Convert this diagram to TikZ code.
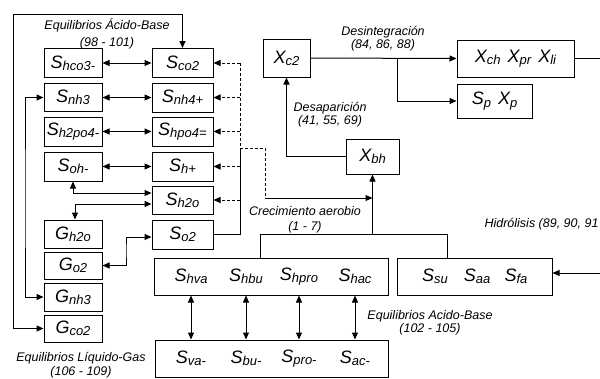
\documentclass[tikz,border=0pt]{standalone}
\usepackage{fontspec}
\setmainfont{Liberation Sans}
\usetikzlibrary{arrows.meta}
\newcommand{\vv}[2]{{\fontsize{18}{18}\selectfont\itshape #1}\raisebox{-2.2pt}{\fontsize{13}{13}\selectfont\itshape #2}}
\tikzset{
  box/.style={draw, inner sep=0pt},
  txt/.style={inner sep=0pt},
  lab/.style={font=\fontsize{12.5}{13.5}\selectfont\itshape, align=center, inner sep=0pt},
  arr/.style={-{Triangle[length=7pt,width=6pt]}},
  both/.style={{Triangle[length=7pt,width=6pt]}-{Triangle[length=7pt,width=6pt]}},
  dsh/.style={dash pattern=on 3pt off 2pt}
}
\begin{document}
\begin{tikzpicture}[x=1pt,y=-1pt,line width=1pt]
\useasboundingbox (0,0) rectangle (600,378);
\clip (0,0) rectangle (600,378);
% left column
\node[box,minimum width=58pt,minimum height=29pt] (shco3) at (73,63) {\vv{S}{hco3-}};
\node[box,minimum width=58pt,minimum height=28pt] (snh3) at (73,97.5) {\vv{S}{nh3}};
\node[box,minimum width=58pt,minimum height=29pt] (sh2po4) at (73,131.5) {\vv{S}{h2po4-}};
\node[box,minimum width=58pt,minimum height=29pt] (soh) at (73,166.5) {\vv{S}{oh-}};
\node[box,minimum width=58pt,minimum height=28pt] (gh2o) at (73,234) {\vv{G}{h2o}};
\node[box,minimum width=58pt,minimum height=27pt] (go2) at (73,265.5) {\vv{G}{o2}};
\node[box,minimum width=58pt,minimum height=28pt] (gnh3) at (73,297) {\vv{G}{nh3}};
\node[box,minimum width=58pt,minimum height=27pt] (gco2) at (73,328.5) {\vv{G}{co2}};
% right column
\node[box,minimum width=61pt,minimum height=29pt] (sco2) at (182.5,63) {\vv{S}{co2}};
\node[box,minimum width=61pt,minimum height=29pt] (snh4) at (182.5,97.5) {\vv{S}{nh4+}};
\node[box,minimum width=61pt,minimum height=29pt] (shpo4) at (182.5,131.5) {\vv{S}{hpo4=}};
\node[box,minimum width=61pt,minimum height=29pt] (shp) at (182.5,166.5) {\vv{S}{h+}};
\node[box,minimum width=61pt,minimum height=28pt] (sh2o) at (182.5,200) {\vv{S}{h2o}};
\node[box,minimum width=61pt,minimum height=29pt] (so2) at (182.5,234.5) {\vv{S}{o2}};
% right part
\node[box,minimum width=47pt,minimum height=38pt] (xc2) at (286.5,58) {\vv{X}{c2}};
\node[box,minimum width=117pt,minimum height=37pt] (xch) at (515.5,58.5) {\vv{X}{ch}\hspace{7pt}\vv{X}{pr}\hspace{7pt}\vv{X}{li}};
\node[box,minimum width=75pt,minimum height=34pt] (sp) at (494.5,101) {\vv{S}{p}\hspace{7pt}\vv{X}{p}};
\node[box,minimum width=53pt,minimum height=35pt] (xbh) at (372.5,156.5) {\vv{X}{bh}};
\node[box,minimum width=234pt,minimum height=37pt] (shva) at (271,276.5) {};
\node[box,minimum width=155pt,minimum height=37pt] (ssu) at (474.5,276.5) {};
\node[box,minimum width=233pt,minimum height=37pt] (sva) at (271.5,358.5) {};
% texts in big boxes
\node[txt] (hva) at (191,276.5) {\vv{S}{hva}};
\node[txt] (hbu) at (246,276.5) {\vv{S}{hbu}};
\node[txt] (hpro) at (299,276.5) {\vv{S}{hpro}};
\node[txt] (hac) at (355,276.5) {\vv{S}{hac}};
\node[txt] (va) at (191,358.5) {\vv{S}{va-}};
\node[txt] (bu) at (246,358.5) {\vv{S}{bu-}};
\node[txt] (pro) at (299,358.5) {\vv{S}{pro-}};
\node[txt] (ac) at (355,358.5) {\vv{S}{ac-}};
\node[txt] (su) at (435,276.5) {\vv{S}{su}};
\node[txt] (aa) at (477,276.5) {\vv{S}{aa}};
\node[txt] (fa) at (516,276.5) {\vv{S}{fa}};
% labels
\node[lab] (l1) at (107,33.5) {Equilibrios Ácido-Base\\[3.5pt](98 - 101)};
\node[lab] (l2) at (383,38.5) {Desintegración\\(84, 86, 88)};
\node[lab] (l3) at (330,114.5) {Desaparición\\(41, 55, 69)};
\node[lab] (l4) at (305,219.5) {Crecimiento aerobio\\[1.5pt](1 - 7)};
\node[lab,anchor=east] (l5) at (599,224) {Hidrólisis (89, 90, 91};
\node[lab] (l6) at (430,323) {Equilibrios Acido-Base\\(102 - 105)};
\node[lab] (l7) at (81,365) {Equilibrios Líquido-Gas\\(106 - 109)};
% coordinates
\coordinate (tl) at (13,14);
\coordinate (ln) at (25,200);
\coordinate (og) at (126,250);
\coordinate (dmid) at (240,148);
\coordinate (dturn) at (265,148);
\coordinate (dbot) at (265,198);
\coordinate (ta) at (260,234);
\coordinate (tb) at (447,234);
\coordinate (br) at (397,58.5);
\coordinate (re) at (600,58.5);
\coordinate (ri) at (600,273);
% left connectors
\draw[both] (gco2.west) -| (tl) -| (sco2.north);
\draw[both] (snh3.west) -| (ln) |- (gnh3.west);
\draw[both] (shco3.east) -- (sco2.west);
\draw[both] (snh3.east) -- (snh4.west);
\draw[both] (sh2po4.east) -- (shpo4.west);
\draw[both] (soh.east) -- (shp.west);
\draw[both] (soh.south) |- ([yshift=7pt]sh2o.west);
\draw[both] ([yshift=-4pt]sh2o.west) -| ([xshift=2pt]gh2o.north);
\draw[both] (go2.east) -| (og) |- ([yshift=-2.5pt]so2.west);
% dashed
\draw[dsh] (sco2.east -| dmid) -- (dmid) -- (dturn) -- (dbot);
\foreach \n in {sco2,snh4,shpo4,shp,sh2o}
  \draw[dsh,arr] (\n.east -| dmid) -- (\n.east);
\draw (so2.east) -| (dmid);
\draw[arr] (dbot) -- (dbot -| xbh.south);
% tree
\draw (ta |- shva.north) -- (ta) -- (tb) -- (tb |- ssu.north);
\draw[arr] (xbh.south |- ta) -- (xbh.south);
\draw[arr] (xbh.west) -| (xc2.south);
\draw[arr] (xc2.east) -- (xch.west);
\draw[arr] (br) |- (sp.west);
\draw (xch.east) -- (re);
\draw[arr] (ri) -- (ri -| ssu.east);
% vertical double arrows
\foreach \n/\m in {hva/va,hbu/bu,pro/pro,hac/ac}
  \draw[both] (\m |- shva.south) -- (\m |- sva.north);
\end{tikzpicture}
\end{document}
